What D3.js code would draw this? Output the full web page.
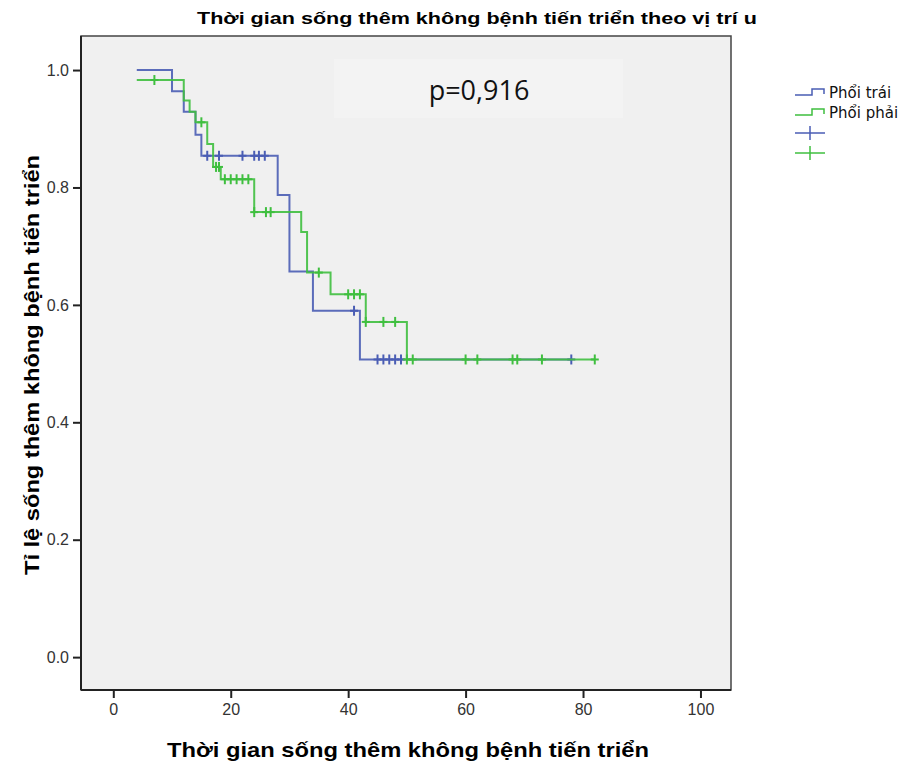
<!DOCTYPE html>
<html>
<head>
<meta charset="utf-8">
<script src="https://cdn.jsdelivr.net/npm/d3@7"></script>
<style>
  html, body { margin: 0; padding: 0; background: #ffffff; }
  svg { display: block; }
</style>
</head>
<body>
<svg id="chart" width="902" height="765"></svg>
<script>
// ---- data ----
const groupNames = ["Phổi trái", "Phổi phải"];
const xTicks = [0, 20, 40, 60, 80, 100];
const yTicks = [0.0, 0.2, 0.4, 0.6, 0.8, 1.0];

// Phổi trái (blue): step times and survival after each step
const leftTimes = [4, 10, 12, 14, 15, 28, 30, 34, 42, 78];
const leftSurv  = [1.0, 0.964, 0.929, 0.890, 0.854, 0.787, 0.657, 0.590, 0.507, 0.507];
const leftCensor = [16, 18, 22, 24, 24.8, 25.8, 41, 45, 46, 47, 48, 49, 78];

// Phổi phải (green)
const rightTimes = [4, 12, 13, 14, 16, 17, 18.3, 24, 32, 33, 37, 43, 50, 82];
const rightSurv  = [0.983, 0.948, 0.929, 0.911, 0.874, 0.835, 0.814, 0.758, 0.724, 0.655, 0.618, 0.571, 0.507, 0.507];
const rightCensor = [7, 15, 17.5, 18, 19, 20, 21, 22, 23, 24, 26, 26.8, 35, 40, 41, 42, 43, 46, 48, 50, 51, 60, 62, 68, 68.8, 73, 82];

const pText = "p=0,916";
const titleText = "Thời gian sống thêm không bệnh tiến triển theo vị trí u";
const xLabel = "Thời gian sống thêm không bệnh tiến triển";
const yLabel = "Tỉ lệ sống thêm không bệnh tiến triển";

const colors = ["#4a5db4", "#3fbf3f"];

// ---- layout ----
const svg = d3.select("#chart");
const L = 81, R = 731, T = 36, B = 690;
const x = d3.scaleLinear().domain([-5.5, 105.2]).range([L, R]);
const y = d3.scaleLinear().domain([-0.056, 1.058]).range([B, T]);

// plot background
svg.append("rect").attr("x", L).attr("y", T).attr("width", R - L).attr("height", B - T)
  .attr("fill", "#f0f0f0").attr("stroke", "#444").attr("stroke-width", 1.5);

// p-value box
svg.append("rect").attr("x", 334).attr("y", 59).attr("width", 289).attr("height", 59)
  .attr("fill", "#f3f3f3");
svg.append("text").attr("x", 479).attr("y", 100).attr("text-anchor", "middle")
  .attr("font-family", "Open Sans").attr("font-size", 27).attr("fill", "#111")
  .text(pText);

// axes
const xAxis = d3.axisBottom(x).tickValues(xTicks).tickSize(8).tickPadding(6).tickFormat(d3.format("d"));
const yAxis = d3.axisLeft(y).tickValues(yTicks).tickSize(8).tickPadding(4).tickFormat(d3.format(".1f"));
const gx = svg.append("g").attr("transform", `translate(0,${B})`).call(xAxis);
const gy = svg.append("g").attr("transform", `translate(${L},0)`).call(yAxis);
[gx, gy].forEach(g => {
  g.attr("font-size", 16).attr("font-family", "Liberation Sans");
  g.select(".domain").attr("stroke", "#222").attr("stroke-width", 2);
  g.selectAll(".tick line").attr("stroke", "#222").attr("stroke-width", 2);
  g.selectAll(".tick text").attr("font-family", "Liberation Sans").attr("font-size", 16).attr("fill", "#333");
});
gx.select(".domain").attr("d", `M${L},0H${R}`);
gy.select(".domain").attr("d", `M0,${T}V${B}`);

// curves
const line = d3.line().x(d => x(d[0])).y(d => y(d[1])).curve(d3.curveStepAfter);
const series = [
  {times: leftTimes, surv: leftSurv, censor: leftCensor, color: colors[0]},
  {times: rightTimes, surv: rightSurv, censor: rightCensor, color: colors[1]}
];
function survAt(s, t) {
  let v = s.surv[0];
  for (let i = 0; i < s.times.length; i++) if (s.times[i] <= t) v = s.surv[i];
  return v;
}
series.forEach(s => {
  const pts = s.times.map((t, i) => [t, s.surv[i]]);
  svg.append("path").attr("d", line(pts)).attr("fill", "none")
    .attr("stroke", s.color).attr("stroke-width", 2).attr("opacity", 0.9);
  const g = svg.append("g").attr("stroke", s.color).attr("stroke-width", 2);
  s.censor.forEach(t => {
    const cx = x(t), cy = y(survAt(s, t));
    g.append("line").attr("x1", cx).attr("x2", cx).attr("y1", cy - 5).attr("y2", cy + 5);
    g.append("line").attr("x1", cx - 4).attr("x2", cx + 4).attr("y1", cy).attr("y2", cy);
  });
});

// title
svg.append("text").attr("x", 477).attr("y", 24).attr("text-anchor", "middle")
  .attr("font-family", "Liberation Sans").attr("font-weight", "bold").attr("font-size", 17)
  .attr("fill", "#000").attr("textLength", 560).attr("lengthAdjust", "spacingAndGlyphs")
  .text(titleText);

// axis titles
svg.append("text").attr("x", 408).attr("y", 757).attr("text-anchor", "middle")
  .attr("font-family", "Liberation Sans").attr("font-weight", "bold").attr("font-size", 21)
  .attr("fill", "#000").attr("textLength", 482).attr("lengthAdjust", "spacingAndGlyphs")
  .text(xLabel);
svg.append("text").attr("transform", "translate(39,365) rotate(-90)").attr("text-anchor", "middle")
  .attr("font-family", "Liberation Sans").attr("font-weight", "bold").attr("font-size", 21)
  .attr("fill", "#000").attr("textLength", 420).attr("lengthAdjust", "spacingAndGlyphs")
  .text(yLabel);

// legend
const lg = svg.append("g");
groupNames.forEach((name, i) => {
  const yy = 95 + i * 20;
  lg.append("path").attr("d", `M795,${yy}H812V${yy - 6}H824V${yy - 1}`)
    .attr("fill", "none").attr("stroke", colors[i]).attr("stroke-width", 1.5);
  lg.append("text").attr("x", 829).attr("y", yy + 3)
    .attr("font-family", "DejaVu Sans").attr("font-size", 15).attr("fill", "#111")
    .text(name);
});
groupNames.forEach((name, i) => {
  const yy = 133 + i * 20;
  lg.append("line").attr("x1", 795).attr("x2", 825).attr("y1", yy).attr("y2", yy)
    .attr("stroke", colors[i]).attr("stroke-width", 1.5);
  lg.append("line").attr("x1", 810).attr("x2", 810).attr("y1", yy - 7).attr("y2", yy + 7)
    .attr("stroke", colors[i]).attr("stroke-width", 1.5);
});
</script>
</body>
</html>
